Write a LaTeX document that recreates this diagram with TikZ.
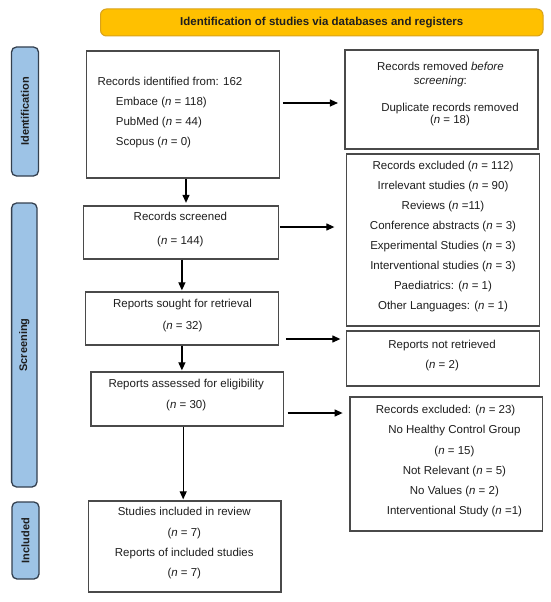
\documentclass[tikz,border=0pt]{standalone}
\usepackage{fontspec}
\setmainfont{Liberation Sans}
\usetikzlibrary{arrows.meta}
\definecolor{boxline}{HTML}{4A4A4A}
\definecolor{txtcol}{HTML}{1E1E1E}
\definecolor{bannerfill}{HTML}{FFC000}
\definecolor{bannerline}{HTML}{D9A21B}
\definecolor{sidefill}{HTML}{9DC3E6}
\definecolor{sideline}{HTML}{34404F}
\begin{document}
\begin{tikzpicture}[x=1pt,y=-1pt,
  box/.style={draw=boxline,line width=1.3pt,inner sep=0pt,fill=white},
  txt/.style={inner sep=0pt,align=center,font=\fontsize{11.5}{20}\selectfont,text=txtcol},
  arr/.style={draw=black,line width=1.2pt,-{Triangle[length=8pt,width=7pt]}},
  side/.style={draw=sideline,fill=sidefill,line width=1.3pt,rounded corners=5pt,rotate=90,inner sep=0pt,font=\bfseries\fontsize{11}{13}\selectfont,text=txtcol},
  banner/.style={draw=bannerline,fill=bannerfill,line width=1pt,rounded corners=6pt,inner sep=0pt,font=\bfseries\fontsize{11.5}{13}\selectfont,text=txtcol}]
\useasboundingbox (0,0) rectangle (550,602);
\fill[white] (0,0) rectangle (550,602);

% banner and side labels
\node[banner,minimum width=442.5pt,minimum height=27pt] (banner) at (321.75,22.5) {Identification of studies via databases and registers};
\node[side,minimum width=129pt,minimum height=27pt] (labid) at (25,111.5) {Identification};
\node[side,minimum width=284pt,minimum height=25.4pt] (labscr) at (24.3,345) {Screening};
\node[side,minimum width=77pt,minimum height=27pt] (labinc) at (25.5,540.5) {Included};

% boxes
\node[box,minimum width=192.6pt,minimum height=127pt] (ident) at (183,114.5) {};
\node[box,minimum width=193pt,minimum height=99pt] (removed) at (441.5,99.5) {};
\node[box,minimum width=192.6pt,minimum height=172pt] (excl1) at (443,240) {};
\node[box,minimum width=194.8pt,minimum height=53pt] (screened) at (180.9,232.5) {};
\node[box,minimum width=192.6pt,minimum height=53pt] (sought) at (181.9,318.5) {};
\node[box,minimum width=192.6pt,minimum height=55pt] (notret) at (443,358.5) {};
\node[box,minimum width=192.3pt,minimum height=54pt] (assessed) at (187,399) {};
\node[box,minimum width=192.3pt,minimum height=134pt] (excl2) at (446,464) {};
\node[box,minimum width=192.6pt,minimum height=91pt] (included) at (184.7,546.5) {};

% texts
\node[txt,anchor=west,align=left] (identt) at (97.3,112.2) {Records identified from: 162\\\hspace*{18.4pt}Embace (\textit{n} = 118)\\\hspace*{18.4pt}PubMed (\textit{n} = 44)\\\hspace*{18.4pt}Scopus (\textit{n} = 0)};
\node[txt,font=\fontsize{11.5}{14.3}\selectfont] (remt1) at (440.4,74.8) {Records removed \textit{before}\\\textit{screening}:};
\node[txt,font=\fontsize{11.5}{11.7}\selectfont] (remt2) at (450,114.2) {Duplicate records removed\\(\textit{n} = 18)};
\node[txt,font=\fontsize{11.5}{20.1}\selectfont] (excl1t) at (443,236.4) {Records excluded (\textit{n} = 112)\\Irrelevant studies (\textit{n} = 90)\\Reviews (\textit{n} =11)\\Conference abstracts (\textit{n} = 3)\\Experimental Studies (\textit{n} = 3)\\Interventional studies (\textit{n} = 3)\\Paediatrics: (\textit{n} = 1)\\Other Languages: (\textit{n} = 1)};
\node[txt,font=\fontsize{11.5}{24}\selectfont] (screenedt) at (180.4,230) {Records screened\\(\textit{n} = 144)};
\node[txt,font=\fontsize{11.5}{21.7}\selectfont] (soughtt) at (182.5,315.8) {Reports sought for retrieval\\(\textit{n} = 32)};
\node[txt] (notrett) at (442.1,355.3) {Reports not retrieved\\(\textit{n} = 2)};
\node[txt,font=\fontsize{11.5}{21}\selectfont] (assessedt) at (186.2,395.5) {Reports assessed for eligibility\\(\textit{n} = 30)};
\node[txt] (excl2t1) at (445.6,411) {Records excluded: (\textit{n} = 23)};
\node[txt,font=\fontsize{11.5}{20.2}\selectfont] (excl2t2) at (454.4,471.3) {No Healthy Control Group\\(\textit{n} = 15)\\Not Relevant (\textit{n} = 5)\\No Values (\textit{n} = 2)\\Interventional Study (\textit{n} =1)};
\node[txt,font=\fontsize{11.5}{20.3}\selectfont] (includedt) at (184.3,543.2) {Studies included in review\\(\textit{n} = 7)\\Reports of included studies\\(\textit{n} = 7)};

% vertical arrows
\draw[arr,shorten >=2.5pt] ([xshift=3pt]ident.south) -- ([xshift=3pt]ident.south |- screened.north);
\draw[arr,shorten >=1pt] (sought.north |- screened.south) -- (sought.north);
\draw[arr,shorten >=1pt] (sought.south) -- (sought.south |- assessed.north);
\draw[arr,shorten >=1pt] ([xshift=-1.5pt]included.north |- assessed.south) -- ([xshift=-1.5pt]included.north);

% horizontal arrows
\draw[arr,shorten <=3pt,shorten >=6.4pt] ([yshift=11.5pt]ident.east) -- ([yshift=11.5pt]ident.east -| removed.west);
\draw[arr,shorten <=1pt,shorten >=11.7pt] ([yshift=5.5pt]screened.east) -- ([yshift=5.5pt]screened.east -| excl1.west);
\draw[arr,shorten <=7pt,shorten >=5.7pt] ([yshift=-20.5pt]sought.east) -- ([yshift=-20.5pt]sought.east -| notret.west);
\draw[arr,shorten <=3.8pt,shorten >=6.6pt] ([yshift=-14pt]assessed.east) -- ([yshift=-14pt]assessed.east -| excl2.west);
\end{tikzpicture}
\end{document}
